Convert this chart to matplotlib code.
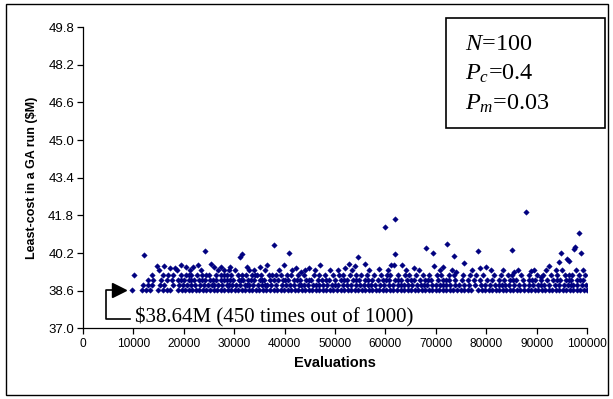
import matplotlib
matplotlib.use("Agg")
import matplotlib.pyplot as plt
from matplotlib.patches import Rectangle
import numpy as np

plt.rcParams['font.family'] = ['Liberation Sans', 'DejaVu Sans']
plt.rcParams['mathtext.fontset'] = 'custom'
plt.rcParams['mathtext.rm'] = 'Liberation Serif'
plt.rcParams['mathtext.it'] = 'Liberation Serif:italic'

# evaluations (thousands) at each discrete cost level ($M)
lvl_costs = [38.64, 38.86, 39.08, 39.29, 39.50]

base_x = [9.7, 11.8, 12.5, 13.3, 14.9, 15.8, 16.6, 17.3, 18.9, 19.6, 20.3, 21.0, 21.7,
          22.4, 23.1, 23.8, 24.5, 25.2, 25.9, 26.6, 27.3, 28.0, 28.7, 29.4, 30.1, 30.8,
          31.5, 32.2, 32.9, 33.6, 34.3, 35.0, 35.7, 36.4, 37.1, 37.8, 38.5, 39.2, 39.9,
          40.6, 41.3, 42.0, 42.7, 43.4, 44.1, 44.8, 45.5, 46.2, 46.9, 47.6, 48.3, 49.0,
          49.7, 50.4, 51.1, 51.8, 52.5, 53.2, 53.9, 54.6, 55.3, 56.0, 56.7, 57.4, 58.1,
          58.8, 59.5, 60.2, 60.9, 61.6, 62.3, 63.0, 63.7, 64.4, 65.1, 65.8, 66.5, 67.2,
          67.9, 68.6, 69.3, 70.0, 70.7, 71.4, 72.1, 72.8, 73.5, 74.2, 74.9, 75.6, 76.3,
          77.0, 78.4, 79.1, 79.8, 80.5, 81.2, 81.9, 82.6, 83.3, 84.0, 84.7, 85.4, 86.1,
          86.8, 87.5, 88.2, 88.9, 89.6, 90.3, 91.0, 91.7, 92.4, 93.1, 93.8, 94.5, 95.2,
          95.9, 96.6, 97.3, 98.0, 98.7, 99.4, 100.0]

lvl2_x = [12.0, 12.8, 13.6, 15.2, 16.0, 17.9, 19.0, 19.8, 20.6, 21.5, 22.3, 23.2, 24.0,
          24.9, 25.5, 26.0, 26.8, 27.6, 28.5, 29.0, 29.6, 30.4, 31.2, 32.1, 32.6, 33.0,
          33.8, 34.7, 35.6, 36.1, 36.5, 37.4, 38.3, 39.4, 40.2, 41.0, 41.9, 42.8, 43.3,
          43.9, 44.7, 45.6, 46.2, 46.8, 47.7, 48.5, 49.4, 50.0, 50.6, 51.5, 52.3, 53.2,
          54.1, 55.0, 55.8, 56.5, 57.2, 58.0, 58.9, 59.8, 60.7, 61.6, 62.5, 63.1, 63.6,
          64.4, 65.3, 66.2, 67.1, 67.7, 68.3, 69.2, 70.0, 70.9, 71.5, 72.0, 72.9, 73.8,
          74.7, 75.6, 76.6, 77.8, 78.9, 79.8, 80.8, 81.7, 82.6, 83.1, 83.7, 84.6, 85.5,
          86.5, 87.4, 88.4, 89.3, 90.3, 90.9, 91.5, 92.4, 93.6, 94.5, 95.4, 96.3, 96.8,
          97.2, 98.1, 99.0, 99.8]

lvl3_x = [12.9, 13.9, 15.5, 16.6, 17.7, 18.9, 19.5, 20.1, 21.0, 21.5, 22.0, 23.0, 23.7,
          24.3, 25.2, 25.8, 26.4, 27.3, 27.9, 28.5, 29.2, 29.8, 30.9, 31.4, 31.8, 32.8,
          33.4, 34.0, 35.1, 35.6, 36.0, 37.2, 37.9, 38.6, 39.7, 40.1, 40.6, 41.8, 42.4,
          43.0, 44.2, 44.8, 45.3, 46.6, 47.5, 48.2, 48.8, 50.0, 51.2, 51.8, 52.4, 53.6,
          54.2, 54.8, 55.9, 56.6, 57.3, 58.5, 59.6, 60.2, 60.7, 61.9, 62.5, 63.0, 64.3,
          65.0, 65.6, 66.8, 67.9, 68.5, 69.1, 70.4, 71.5, 72.1, 72.6, 73.9, 75.1, 76.3,
          77.5, 78.8, 80.1, 81.2, 82.5, 83.6, 84.8, 85.4, 86.0, 87.3, 88.4, 89.0, 89.6,
          90.9, 92.1, 93.3, 94.0, 94.6, 95.8, 96.4, 96.9, 98.1, 98.7, 99.3]

lvl4_x = [10.2, 13.7, 15.8, 16.8, 17.8, 19.5, 20.4, 21.0, 21.5, 22.6, 23.6, 24.5, 25.0,
          26.3, 27.4, 28.0, 28.6, 29.3, 30.8, 31.6, 32.4, 33.5, 34.1, 34.6, 35.4, 36.9,
          37.5, 38.2, 39.3, 40.5, 41.2, 42.6, 43.8, 45.9, 46.8, 48.1, 49.6, 50.8, 51.6,
          53.0, 54.2, 55.1, 56.3, 57.8, 59.2, 60.3, 61.0, 62.4, 63.8, 64.7, 66.0, 67.4,
          68.7, 70.2, 71.1, 72.7, 73.7, 75.3, 76.8, 78.0, 79.4, 81.6, 82.9, 84.3, 85.2,
          86.9, 88.5, 90.1, 91.3, 92.9, 94.0, 95.6, 96.5, 97.0, 98.4, 99.6]

lvl5_x = [15.0, 18.6, 21.2, 23.4, 26.8, 28.9, 30.2, 33.9, 36.2, 38.9, 41.5, 44.0, 46.1,
          49.0, 50.5, 53.3, 56.8, 60.5, 64.0, 66.6, 70.8, 73.3, 77.2, 81.0, 83.4, 86.3,
          89.5, 91.8, 93.9, 95.0, 97.8, 99.2]

# scattered higher results
high_x = [17.2, 18.2, 20.5, 21.8, 14.7, 16.0, 19.5, 22.8, 12.1,
          24.3, 31.2, 31.6, 37.8, 25.3, 25.9, 27.3, 29.2, 32.5, 35.2, 36.5, 33.0, 28.0,
          40.8, 39.8, 42.2, 43.3, 44.8, 47.1, 51.9, 52.7, 54.5, 53.9,
          55.9, 58.8, 60.0, 62.0, 62.0, 61.1, 61.8, 63.3, 65.6, 68.05, 69.4, 69.6,
          72.3, 73.7, 75.6, 71.5, 78.3, 78.7, 80.0, 74.0,
          87.8, 85.1, 98.5, 97.7, 97.4, 94.8, 98.9, 94.5, 96.0, 96.4, 92.5, 85.5, 88.8, 90.8]
high_y = [39.55, 39.55, 39.6, 39.6, 39.65, 39.65, 39.7, 39.7, 40.14,
          40.3, 40.05, 40.15, 40.55, 39.75, 39.6, 39.6, 39.6, 39.6, 39.6, 39.7, 39.5, 39.5,
          40.2, 39.7, 39.57, 39.4, 39.55, 39.7, 39.55, 39.75, 40.03, 39.65,
          39.75, 39.52, 41.3, 41.67, 40.15, 39.7, 39.7, 39.7, 39.55, 40.4, 40.2, 39.65,
          40.57, 40.07, 39.77, 39.6, 40.3, 39.55, 39.62, 39.4,
          41.95, 40.35, 41.07, 40.45, 40.38, 40.2, 40.2, 39.84, 39.93, 39.85, 39.65, 39.4, 39.42, 39.2]

y_ticks = [37.0, 38.6, 40.2, 41.8, 43.4, 45.0, 46.6, 48.2, 49.8]
x_ticks = [0, 10000, 20000, 30000, 40000, 50000, 60000, 70000, 80000, 90000, 100000]

fig = plt.figure(figsize=(6.13, 3.99), dpi=100)
ax = fig.add_axes([0.1354, 0.1767, 0.8222, 0.7556])

mk = dict(ls='none', marker='D', ms=2.8, color='#000080', mec='#000080', mew=0.3)
for xs, c in zip([base_x, lvl2_x, lvl3_x, lvl4_x, lvl5_x], lvl_costs):
    ax.plot(np.array(xs) * 1000, [c] * len(xs), **mk)
ax.plot(np.array(high_x) * 1000, high_y, **mk)

ax.set_xlim(0, 100000)
ax.set_ylim(37.0, 49.8)
ax.set_xticks(x_ticks)
ax.set_yticks(y_ticks)
ax.set_yticklabels([f'{t:.1f}' for t in y_ticks])
for s in ['top', 'right']:
    ax.spines[s].set_visible(False)
for s in ['left', 'bottom']:
    ax.spines[s].set_linewidth(0.9)
ax.tick_params(direction='out', length=4, width=0.9, labelsize=8.6, pad=3)
ax.tick_params(axis='y', labelsize=9.5, pad=2.5)
ax.set_xlabel('Evaluations', fontsize=10.5, fontweight='bold', labelpad=4)
ax.set_ylabel(r'Least-cost in a GA run (\$M)', fontsize=9, fontweight='bold', labelpad=7)

# annotation for the minimum cost
ax.plot([9300, 4550, 4550, 6000], [37.41, 37.41, 38.64, 38.64], color='black', lw=1.2, clip_on=False)
ax.plot([7100], [38.64], marker='>', ms=10, color='black', clip_on=False)
ax.text(10300, 37.24, r'\$38.64M (450 times out of 1000)', fontsize=15,
        family='Liberation Serif', va='baseline', ha='left')

# parameter box
fig.patches.append(Rectangle((0.7276, 0.679), 0.2594, 0.2757, transform=fig.transFigure,
                             fill=False, ec='black', lw=1.2))
params = [r'$N$=100', r'$P_c$=0.4', r'$P_m$=0.03']
for i, p in enumerate(params):
    fig.text(465 / 613, 1 - (50 + 30 * i) / 399, p, fontsize=17.5,
             family='Liberation Serif', va='baseline', ha='left')

# outer frame
fig.patches.append(Rectangle((6 / 613, 4 / 399), 602 / 613, 391 / 399, transform=fig.transFigure,
                             fill=False, ec='black', lw=1.0))

fig.savefig('out.png', dpi=100)
